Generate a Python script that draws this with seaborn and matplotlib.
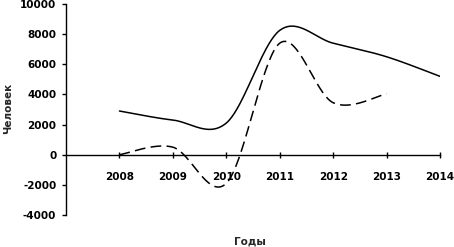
import numpy as np
import pandas as pd
import matplotlib
matplotlib.use("Agg")
import matplotlib.pyplot as plt
import seaborn as sns

# годы и значения
years = [2008, 2009, 2010, 2011, 2012, 2013, 2014]
solid_vals = [2900, 2300, 2100, 8250, 7400, 6500, 5200]
dash_years = [2008, 2009, 2010, 2011, 2012, 2013]
dash_vals = [0, 500, -1900, 7400, 3450, 4050]
y_ticks = [-4000, -2000, 0, 2000, 4000, 6000, 8000, 10000]


def smooth(xs, ys, n=40):
    # сглаживание как в Excel (кривые Безье через точки)
    p = np.column_stack([xs, ys]).astype(float)
    p = np.vstack([p[0], p, p[-1]])
    out = []
    for i in range(1, len(p) - 2):
        p0, p1, p2, p3 = p[i - 1], p[i], p[i + 1], p[i + 2]
        c1 = p1 + (p2 - p0) / 6
        c2 = p2 - (p3 - p1) / 6
        t = np.linspace(0, 1, n)[:, None]
        seg = (1 - t) ** 3 * p1 + 3 * (1 - t) ** 2 * t * c1 + 3 * (1 - t) * t ** 2 * c2 + t ** 3 * p2
        out.append(seg if i == 1 else seg[1:])
    seg = np.vstack(out)
    return pd.DataFrame({"x": seg[:, 0], "y": seg[:, 1]})


sns.set_style("ticks")
FS = 7.5
plt.rcParams["font.family"] = ["DejaVu Sans"]
plt.rcParams["font.weight"] = "bold"
plt.rcParams["xtick.labelsize"] = FS
plt.rcParams["ytick.labelsize"] = FS

fig = plt.figure(figsize=(4.54, 2.47), dpi=100)
ax = fig.add_axes([66 / 454, 1 - 215 / 247, (440 - 66) / 454, (215 - 4) / 247])

df1 = smooth(years, solid_vals)
df2 = smooth(dash_years, dash_vals)
sns.lineplot(data=df1, x="x", y="y", sort=False, color="black", lw=1.1, ax=ax)
sns.lineplot(data=df2, x="x", y="y", sort=False, color="black", lw=1.1, ax=ax)
ax.lines[1].set_dashes((7, 3.5))

ax.set_xlim(2007, 2014)
ax.set_ylim(-4000, 10000)
ax.set_xticks(years)
ax.set_xticklabels([str(y) for y in years])
ax.set_yticks(y_ticks)
ax.set_yticklabels([str(v) for v in y_ticks])

ax.spines["top"].set_visible(False)
ax.spines["right"].set_visible(False)
ax.spines["bottom"].set_position(("data", 0))
for s in ["left", "bottom"]:
    ax.spines[s].set_color("black")
    ax.spines[s].set_linewidth(1.0)
ax.tick_params(axis="x", direction="inout", length=5, width=1, pad=10, colors="black", labelsize=FS)
ax.tick_params(axis="y", direction="out", length=3, width=1, pad=4, colors="black", labelsize=FS)

ax.set_xlabel("")
ax.set_ylabel("")
fig.text(250 / 454, 1 - 241 / 247, "Годы", ha="center", va="center", fontsize=FS, fontweight="bold")
fig.text(8 / 454, 1 - 108 / 247, "Человек", ha="center", va="center", rotation=90,
         fontsize=FS, fontweight="bold")

fig.savefig("out.png", dpi=100)
